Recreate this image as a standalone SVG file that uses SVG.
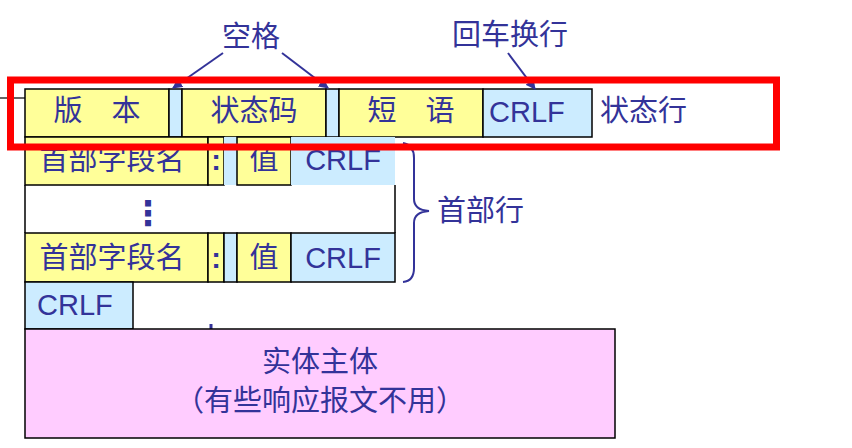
<svg xmlns="http://www.w3.org/2000/svg" width="852" height="448" viewBox="0 0 852 448">
<style>
.t{font-family:"Liberation Sans","Noto Sans CJK SC",sans-serif;font-size:29px;fill:#333399}
.m{text-anchor:middle}
.y{fill:#FFFF99;stroke:#000;stroke-width:1.5}
.b{fill:#CCECFF;stroke:#000;stroke-width:1.5}
.bn{fill:#CCECFF;stroke:none}
.p{fill:#FFCCFF;stroke:#000;stroke-width:1.5}
.ln{fill:none;stroke:#000;stroke-width:1.5}
.c{fill:none;stroke:#333399;stroke-width:2}
</style>
<defs>
<marker id="ah" viewBox="0 0 10 10" refX="9" refY="5" markerWidth="5" markerHeight="5" orient="auto">
<path d="M0,0 L10,5 L0,10 z" fill="#333399"/>
</marker>
</defs>
<rect width="852" height="448" fill="#fff"/>
<line x1="0" y1="98" x2="25" y2="98" stroke="#666" stroke-width="2"/>

<g id="status-line">
<rect class="y" x="25" y="89" width="144" height="48"/>
<rect class="b" x="169" y="89" width="13" height="48"/>
<rect class="y" x="182" y="89" width="144" height="48"/>
<rect class="b" x="326" y="89" width="13" height="48"/>
<rect class="y" x="339" y="89" width="144" height="48"/>
<rect class="b" x="483" y="89" width="109" height="48"/>
<text class="t m" x="97" y="121">版　本</text>
<text class="t m" x="254" y="121">状态码</text>
<text class="t m" x="411" y="121">短　语</text>
<text class="t" x="489" y="122">CRLF</text>
</g>
<text class="t" x="600" y="121">状态行</text>

<g id="header-row-1">
<rect class="y" x="25" y="137" width="183" height="48"/>
<rect class="y" x="208" y="137" width="16" height="48"/>
<rect class="bn" x="224" y="137" width="13" height="48"/>
<rect class="y" x="237" y="137" width="54" height="48"/>
<rect class="bn" x="291" y="137" width="104" height="48"/>
<text class="t m" x="112" y="170">首部字段名</text>
<text class="t m" x="216" y="170" font-weight="bold">:</text>
<text class="t m" x="264" y="170">值</text>
<text class="t m" x="343" y="170">CRLF</text>
</g>

<g id="header-dots">
<path class="ln" d="M25,185 V233 M395,185 V233"/>
<text class="t m" x="148" y="225" font-weight="bold" style="font-family:'DejaVu Sans',sans-serif;font-size:34px">⋮</text>
</g>

<g id="header-row-2">
<rect class="y" x="25" y="233" width="183" height="49"/>
<rect class="y" x="208" y="233" width="16" height="49"/>
<rect class="b" x="224" y="233" width="13" height="49"/>
<rect class="y" x="237" y="233" width="54" height="49"/>
<rect class="b" x="291" y="233" width="104" height="49"/>
<text class="t m" x="112" y="268">首部字段名</text>
<text class="t m" x="216" y="268" font-weight="bold">:</text>
<text class="t m" x="264" y="268">值</text>
<text class="t m" x="343" y="268">CRLF</text>
</g>

<g id="blank-line">
<rect class="b" x="25" y="282" width="108" height="47"/>
<text class="t" x="37" y="315">CRLF</text>
<line x1="211" y1="324" x2="211" y2="330" stroke="#333399" stroke-width="3"/>
</g>

<g id="entity-body">
<rect class="p" x="25" y="329" width="590" height="109"/>
<text class="t m" x="320" y="372">实体主体</text>
<text class="t m" x="320" y="411">（有些响应报文不用）</text>
</g>

<g id="labels">
<text class="t m" x="251" y="47">空格</text>
<text class="t m" x="510" y="45">回车换行</text>
<text class="t" x="437" y="221">首部行</text>
</g>

<g id="connectors">
<line class="c" x1="223" y1="53" x2="173" y2="88" marker-end="url(#ah)"/>
<line class="c" x1="282" y1="53" x2="328" y2="88" marker-end="url(#ah)"/>
<line class="c" x1="508" y1="53" x2="535" y2="89" marker-end="url(#ah)"/>
<path class="c" d="M403,143 Q414,145 414,158 V199 Q414,210 429,211 Q414,212 414,223 V268 Q414,281 403,282"/>
</g>

<rect x="10.5" y="80" width="766" height="67" fill="none" stroke="#FF0000" stroke-width="7"/>
</svg>
